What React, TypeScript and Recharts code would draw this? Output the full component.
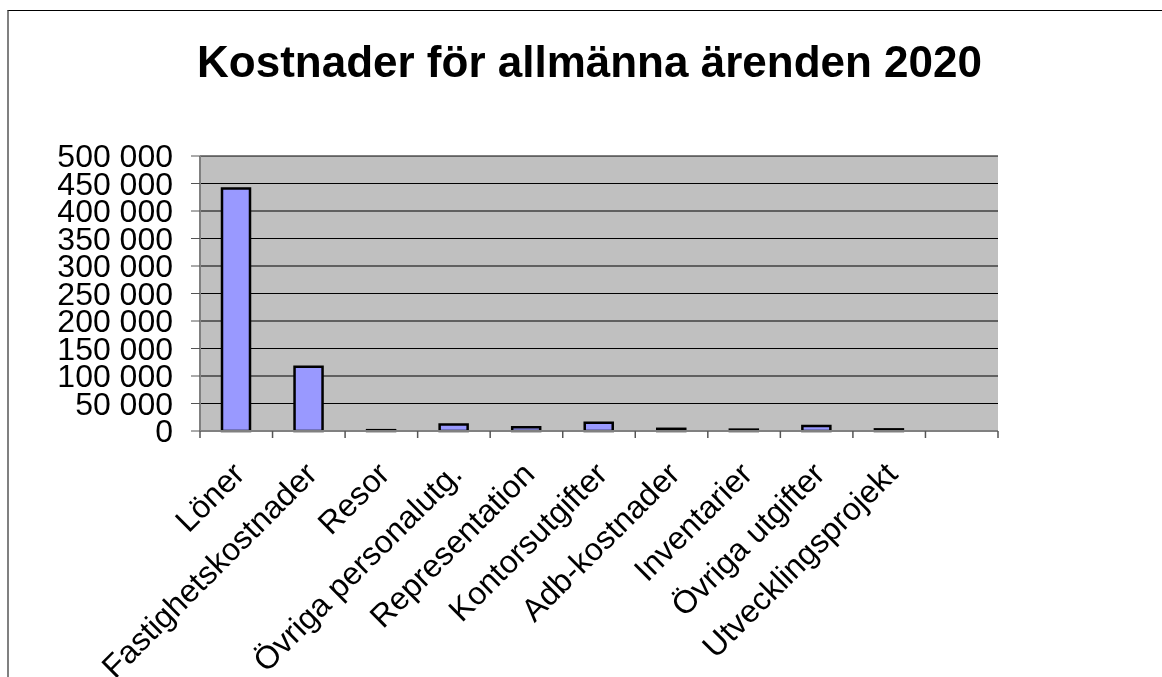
import { BarChart, Bar, XAxis, YAxis, CartesianGrid } from 'recharts';

const categories = [
  'Löner',
  'Fastighetskostnader',
  'Resor',
  'Övriga personalutg.',
  'Representation',
  'Kontorsutgifter',
  'Adb-kostnader',
  'Inventarier',
  'Övriga utgifter',
  'Utvecklingsprojekt',
  '',
];
const costs = [441000, 117000, 1500, 12000, 7000, 15000, 4000, 2500, 9000, 3000, null];
const yTicks = [0, 50000, 100000, 150000, 200000, 250000, 300000, 350000, 400000, 450000, 500000];

const data = categories.map((name, i) => ({ name, value: costs[i] }));

const FONT = '"Liberation Sans", Arial, sans-serif';
const FRAME = '#808080';
const PLOT_LEFT = 200;
const PLOT_RIGHT = 998;
const BAND = (PLOT_RIGHT - PLOT_LEFT) / categories.length;

const fmt = (v: number) => String(v).replace(/\B(?=(\d{3})+(?!\d))/g, ' ');

function CategoryTick(props: any) {
  const { x, y, payload, index } = props;
  const last = index === categories.length - 1;
  return (
    <g transform={`translate(${x},${y})`}>
      <line x1={-BAND / 2} y1={0} x2={-BAND / 2} y2={7} stroke="#555" strokeWidth={1.5} />
      {last && <line x1={BAND / 2} y1={0} x2={BAND / 2} y2={7} stroke="#555" strokeWidth={1.5} />}
      <text
        x={0}
        y={0}
        textAnchor="end"
        transform="translate(10,45) rotate(-45)"
        fontSize={32}
        fontFamily={FONT}
        fill="#000"
      >
        {payload.value}
      </text>
    </g>
  );
}

export default function App() {
  return (
    <div>
      <div
        style={{
          position: 'fixed',
          left: 7,
          top: 10,
          width: 1300,
          height: 800,
          borderLeft: `2px solid ${FRAME}`,
          borderTop: '1px solid #000',
        }}
      />
      <div
        style={{
          position: 'fixed',
          left: -10.5,
          top: 40,
          width: 1200,
          textAlign: 'center',
          fontFamily: FONT,
          fontWeight: 'bold',
          fontSize: 44,
          lineHeight: '44px',
          color: '#000',
        }}
      >
        Kostnader för allmänna ärenden 2020
      </div>
      <div style={{ position: 'fixed', left: 0, top: 0 }}>
        <BarChart
          width={1162}
          height={677}
          data={data}
          margin={{ top: 156, right: 1162 - PLOT_RIGHT, bottom: 146, left: 0 }}
        >
          <CartesianGrid vertical={false} stroke="#000" fill="#c0c0c0" />
          <XAxis
            dataKey="name"
            height={100}
            interval={0}
            tickSize={0}
            tickMargin={0}
            tickLine={false}
            axisLine={{ stroke: FRAME, strokeWidth: 2 }}
            tick={<CategoryTick />}
          />
          <XAxis xAxisId="top" dataKey="name" orientation="top" height={0} tick={false} tickLine={false} axisLine={{ stroke: FRAME, strokeWidth: 2 }} />
          <YAxis
            width={PLOT_LEFT}
            domain={[0, 500000]}
            ticks={yTicks}
            interval={0}
            tickSize={9}
            tickMargin={18}
            tickFormatter={fmt}
            tickLine={{ stroke: '#555' }}
            axisLine={{ stroke: FRAME, strokeWidth: 2 }}
            tick={{ fontSize: 32, fill: '#000', fontFamily: FONT }}
          />
          <YAxis yAxisId="r" orientation="right" width={0} tick={false} tickLine={false} axisLine={{ stroke: FRAME, strokeWidth: 3 }} />
          <Bar dataKey="value" fill="#9999ff" stroke="#000" strokeWidth={2.5} barSize={28} isAnimationActive={false} />
        </BarChart>
      </div>
    </div>
  );
}
